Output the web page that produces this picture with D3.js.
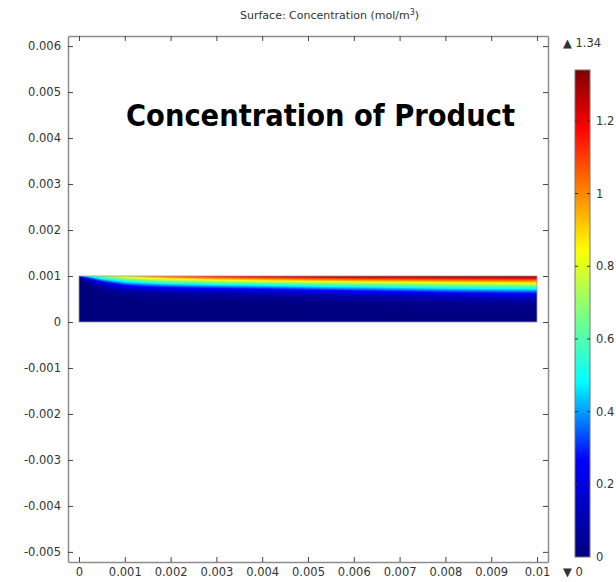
<!DOCTYPE html>
<html>
<head>
<meta charset="utf-8">
<script src="https://cdn.jsdelivr.net/npm/d3@7"></script>
<style>
  body { margin: 0; background: #fff; }
  text { font-family: "DejaVu Sans", sans-serif; }
</style>
</head>
<body>
<svg id="chart" width="616" height="582"></svg>
<script>
// ---- Data -------------------------------------------------------------
// Axis ticks (m)
const xTicks = [0, 0.001, 0.002, 0.003, 0.004, 0.005, 0.006, 0.007, 0.008, 0.009, 0.01];
const xTickLabels = ["0", "0.001", "0.002", "0.003", "0.004", "0.005", "0.006", "0.007", "0.008", "0.009", "0.01"];
const yTicks = [-0.005, -0.004, -0.003, -0.002, -0.001, 0, 0.001, 0.002, 0.003, 0.004, 0.005, 0.006];
const yTickLabels = ["-0.005", "-0.004", "-0.003", "-0.002", "-0.001", "0", "0.001", "0.002", "0.003", "0.004", "0.005", "0.006"];

// Colour legend
const legendTicks = [0, 0.2, 0.4, 0.6, 0.8, 1, 1.2];
const legendTickLabels = ["0", "0.2", "0.4", "0.6", "0.8", "1", "1.2"];
const cMin = 0, cMax = 1.34;

// Domain: channel 0..0.01 m long, 0..0.001 m high
const domainX = [0, 0.01];
const domainY = [0, 0.001];

// Sample positions along the channel (m) and depth below the top wall (µm)
const xNodes = [0, 0.0001, 0.00025, 0.0005, 0.001, 0.0015, 0.002, 0.003, 0.004, 0.005, 0.006, 0.008, 0.01];
const depthNodes = [0, 25, 50, 75, 100, 125, 150, 175, 200, 250, 300, 350, 400, 450, 500, 575, 650, 750, 1000];

// Concentration (mol/m^3) profiles at each x node, listed by depth
const cAt0     = [0.35, 0.035, 0, 0, 0, 0, 0, 0, 0, 0, 0, 0, 0, 0, 0, 0, 0, 0, 0];
const cAt0_1mm = [0.45, 0.295, 0.159, 0.067, 0.020, 0.005, 0.002, 0, 0, 0, 0, 0, 0, 0, 0, 0, 0, 0, 0];
const cAt0_25mm = [0.55, 0.442, 0.333, 0.235, 0.156, 0.093, 0.048, 0.025, 0.012, 0.003, 0, 0, 0, 0, 0, 0, 0, 0, 0];
const cAt0_5mm = [0.70, 0.612, 0.524, 0.437, 0.351, 0.280, 0.216, 0.159, 0.113, 0.049, 0.020, 0.007, 0.003, 0.001, 0, 0, 0, 0, 0];
const cAt1mm   = [0.88, 0.799, 0.718, 0.637, 0.556, 0.475, 0.405, 0.340, 0.281, 0.179, 0.106, 0.055, 0.029, 0.014, 0.006, 0.003, 0, 0, 0];
const cAt1_5mm = [1.00, 0.914, 0.828, 0.741, 0.655, 0.569, 0.489, 0.417, 0.353, 0.237, 0.149, 0.079, 0.045, 0.023, 0.012, 0.005, 0.002, 0, 0];
const cAt2mm   = [1.08, 0.990, 0.899, 0.809, 0.718, 0.628, 0.542, 0.467, 0.397, 0.272, 0.175, 0.099, 0.057, 0.031, 0.016, 0.006, 0.003, 0, 0];
const cAt3mm   = [1.18, 1.084, 0.988, 0.893, 0.797, 0.701, 0.607, 0.527, 0.452, 0.318, 0.205, 0.126, 0.072, 0.041, 0.021, 0.007, 0.004, 0, 0];
const cAt4mm   = [1.24, 1.142, 1.044, 0.946, 0.849, 0.751, 0.653, 0.570, 0.492, 0.352, 0.233, 0.149, 0.084, 0.050, 0.026, 0.008, 0.005, 0, 0];
const cAt5mm   = [1.28, 1.184, 1.089, 0.994, 0.898, 0.802, 0.707, 0.621, 0.541, 0.400, 0.279, 0.186, 0.106, 0.067, 0.039, 0.015, 0.007, 0.002, 0];
const cAt6mm   = [1.31, 1.217, 1.124, 1.032, 0.939, 0.846, 0.753, 0.664, 0.587, 0.444, 0.320, 0.219, 0.141, 0.086, 0.053, 0.023, 0.009, 0.004, 0];
const cAt8mm   = [1.33, 1.245, 1.159, 1.074, 0.988, 0.903, 0.818, 0.733, 0.654, 0.517, 0.394, 0.287, 0.202, 0.131, 0.085, 0.043, 0.020, 0.007, 0];
const cAt10mm  = [1.34, 1.26, 1.18, 1.10, 1.02, 0.94, 0.86, 0.78, 0.70, 0.56, 0.44, 0.33, 0.24, 0.17, 0.11, 0.06, 0.03, 0.01, 0];

// Rainbow colour table (fraction of range -> colour)
const rampStops = [0, 0.2, 0.36, 0.5, 0.63, 0.88, 1];
const rampColors = ["#00007f", "#0000ff", "#00ffff", "#7fff7f", "#ffff00", "#ff0000", "#7f0000"];

// ---- Layout -----------------------------------------------------------
const grid = [cAt0, cAt0_1mm, cAt0_25mm, cAt0_5mm, cAt1mm, cAt1_5mm, cAt2mm, cAt3mm, cAt4mm, cAt5mm, cAt6mm, cAt8mm, cAt10mm];

const svg = d3.select("#chart");
const frame = { left: 68, right: 548, top: 36, bottom: 562 };

const x = d3.scaleLinear().domain([-0.00024, 0.01024]).range([frame.left, frame.right]);
const y = d3.scaleLinear().domain([-0.00522, 0.00622]).range([frame.bottom, frame.top]);

const color = d3.scaleLinear()
  .domain(rampStops.map(t => cMin + t * (cMax - cMin)))
  .range(rampColors)
  .interpolate(d3.interpolateRgb)
  .clamp(true);

// Title
const title = svg.append("text")
  .attr("x", 240).attr("y", 19)
  .attr("font-size", 11).attr("fill", "#333");
title.append("tspan").text("Surface: Concentration (mol/m");
title.append("tspan").attr("dy", -4).attr("font-size", 8).text("3");
title.append("tspan").attr("dy", 4).text(")");

// ---- Surface plot -----------------------------------------------------
function sample(xv, depth) {
  let i = d3.bisectRight(xNodes, xv) - 1;
  i = Math.max(0, Math.min(xNodes.length - 2, i));
  let j = d3.bisectRight(depthNodes, depth) - 1;
  j = Math.max(0, Math.min(depthNodes.length - 2, j));
  const tx = Math.max(0, Math.min(1, (xv - xNodes[i]) / (xNodes[i + 1] - xNodes[i])));
  const ty = Math.max(0, Math.min(1, (depth - depthNodes[j]) / (depthNodes[j + 1] - depthNodes[j])));
  const a = grid[i][j] * (1 - ty) + grid[i][j + 1] * ty;
  const b = grid[i + 1][j] * (1 - ty) + grid[i + 1][j + 1] * ty;
  return a * (1 - tx) + b * tx;
}

const px0 = x(domainX[0]), px1 = x(domainX[1]);
const py0 = y(domainY[1]), py1 = y(domainY[0]);
const W = Math.round(px1 - px0), H = Math.round(py1 - py0);
const canvas = document.createElement("canvas");
canvas.width = W; canvas.height = H;
const ctx = canvas.getContext("2d");
const img = ctx.createImageData(W, H);
for (let r = 0; r < H; r++) {
  const yv = y.invert(py0 + r + 0.5);
  const depth = (domainY[1] - yv) * 1e6;
  for (let c = 0; c < W; c++) {
    const xv = x.invert(px0 + c + 0.5);
    const col = d3.rgb(color(sample(xv, depth)));
    const k = (r * W + c) * 4;
    img.data[k] = col.r; img.data[k + 1] = col.g; img.data[k + 2] = col.b; img.data[k + 3] = 255;
  }
}
ctx.putImageData(img, 0, 0);

svg.append("image")
  .attr("x", px0).attr("y", py0)
  .attr("width", W).attr("height", H)
  .attr("preserveAspectRatio", "none")
  .attr("href", canvas.toDataURL());

svg.append("rect")
  .attr("x", px0).attr("y", py0)
  .attr("width", W).attr("height", H)
  .attr("fill", "none").attr("stroke", "#9a9a9a").attr("stroke-width", 0.8);

// ---- Axes -------------------------------------------------------------
const fmtX = d => xTickLabels[xTicks.indexOf(d)];
const fmtY = d => yTickLabels[yTicks.indexOf(d)];

function styleAxis(g) {
  g.select(".domain").attr("stroke", "#8c8c8c").attr("stroke-width", 1.5);
  g.selectAll(".tick line").attr("stroke", "#444").attr("stroke-width", 1);
  g.selectAll(".tick text").attr("fill", "#333").attr("font-size", 11.5)
    .attr("font-family", "DejaVu Sans, sans-serif");
}

svg.append("g").attr("transform", `translate(${frame.left},0)`)
  .call(d3.axisLeft(y).tickValues(yTicks).tickFormat(fmtY).tickSize(-5).tickSizeOuter(0).tickPadding(7))
  .call(styleAxis);

svg.append("g").attr("transform", `translate(0,${frame.bottom})`)
  .call(d3.axisBottom(x).tickValues(xTicks).tickFormat(fmtX).tickSize(-5).tickSizeOuter(0).tickPadding(6))
  .call(styleAxis);

svg.append("g").attr("transform", `translate(${frame.right},0)`)
  .call(d3.axisRight(y).tickValues(yTicks).tickFormat("").tickSize(-5).tickSizeOuter(0))
  .call(styleAxis);

svg.append("g").attr("transform", `translate(0,${frame.top})`)
  .call(d3.axisTop(x).tickValues(xTicks).tickFormat("").tickSize(-5).tickSizeOuter(0))
  .call(styleAxis);

// ---- Annotation -------------------------------------------------------
svg.append("text")
  .attr("x", 126).attr("y", 126)
  .attr("font-family", "Open Sans, sans-serif")
  .attr("font-weight", 700).attr("font-size", 31)
  .attr("textLength", 389).attr("lengthAdjust", "spacingAndGlyphs")
  .attr("fill", "#000")
  .text("Concentration of Product");

// ---- Colour legend ----------------------------------------------------
const cb = { x: 575, w: 15, top: 70, bottom: 557 };
const cy = d3.scaleLinear().domain([cMin, cMax]).range([cb.bottom, cb.top]);

const grad = svg.append("defs").append("linearGradient")
  .attr("id", "ramp").attr("x1", 0).attr("y1", 1).attr("x2", 0).attr("y2", 0);
grad.selectAll("stop").data(rampStops).join("stop")
  .attr("offset", d => d)
  .attr("stop-color", (d, i) => rampColors[i]);

svg.append("rect")
  .attr("x", cb.x).attr("y", cy(cMax))
  .attr("width", cb.w).attr("height", cy(cMin) - cy(cMax))
  .attr("fill", "url(#ramp)")
  .attr("stroke", "#777").attr("stroke-width", 1);

const lt = svg.append("g").selectAll("g").data(legendTicks).join("g");
lt.filter(d => d > cMin).append("line")
  .attr("x1", cb.x).attr("x2", cb.x + 3)
  .attr("y1", d => cy(d)).attr("y2", d => cy(d))
  .attr("stroke", "#333").attr("stroke-width", 1);
lt.filter(d => d > cMin).append("line")
  .attr("x1", cb.x + cb.w - 3).attr("x2", cb.x + cb.w)
  .attr("y1", d => cy(d)).attr("y2", d => cy(d))
  .attr("stroke", "#333").attr("stroke-width", 1);
lt.append("text")
  .attr("x", cb.x + cb.w + 6).attr("y", d => cy(d))
  .attr("dy", "0.35em").attr("font-size", 11.5).attr("fill", "#333")
  .text((d, i) => legendTickLabels[i]);

svg.append("text")
  .attr("x", 563).attr("y", 43).attr("dy", "0.35em")
  .attr("font-size", 11.5).attr("fill", "#333")
  .text("\u25B2 " + cMax);
svg.append("text")
  .attr("x", 563).attr("y", 572).attr("dy", "0.35em")
  .attr("font-size", 11.5).attr("fill", "#333")
  .text("\u25BC " + cMin);
</script>
</body>
</html>
